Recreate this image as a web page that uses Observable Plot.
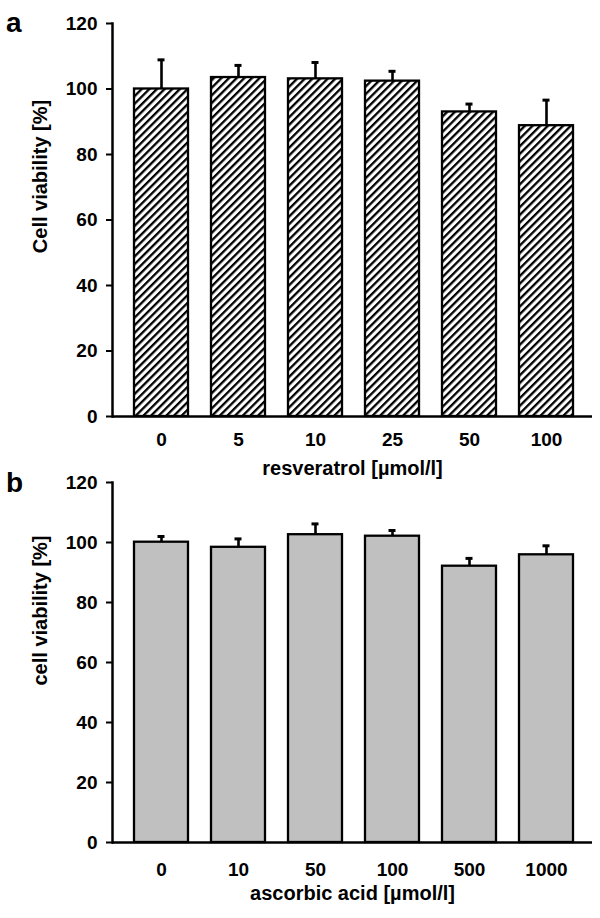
<!DOCTYPE html>
<html><head><meta charset="utf-8">
<script src="https://cdn.jsdelivr.net/npm/d3@7"></script>
<script src="https://cdn.jsdelivr.net/npm/@observablehq/plot@0.6"></script>
<style>
body{margin:0;background:#fff;}
#wrap{position:relative;width:600px;height:918px;font-family:"Liberation Sans",Arial,sans-serif;color:#000;}
.panel{position:absolute;left:0;}
.letter{position:absolute;font-weight:bold;font-size:28px;line-height:1;}
</style></head><body>
<div id="wrap">
  <div class="letter" style="left:6px;top:9px">a</div>
  <div class="letter" style="left:6px;top:469px">b</div>
  <div class="panel" id="pa" style="top:0px"></div>
  <div class="panel" id="pb" style="top:450px"></div>
</div>
<script>
const yTicks = [0, 20, 40, 60, 80, 100, 120];

const resveratrolDoses = ["0", "5", "10", "25", "50", "100"];
const resveratrolMeans = [100.0, 103.5, 103.1, 102.4, 93.0, 88.8];
const resveratrolSD = [8.9, 3.7, 5.0, 3.0, 2.4, 7.8];

const ascorbicDoses = ["0", "10", "50", "100", "500", "1000"];
const ascorbicMeans = [100.1, 98.4, 102.6, 102.1, 92.1, 95.9];
const ascorbicSD = [1.9, 2.8, 3.6, 1.9, 2.6, 3.0];

const FONT = "Liberation Sans, Arial, sans-serif";

function panel(o) {
  const data = o.cats.map((c, i) => ({dose: c, mean: o.means[i], sd: o.sds[i]}));
  const svg = Plot.plot({
    width: 600, height: o.height,
    marginLeft: 112, marginRight: 8, marginTop: o.marginTop, marginBottom: o.marginBottom,
    style: {background: "transparent", overflow: "visible", fontFamily: FONT, fontSize: "19px", fontWeight: "bold", color: "#000"},
    x: {domain: o.cats, range: [119.6, 586.9], paddingInner: 0.293, paddingOuter: 0.1465, label: null},
    y: {domain: [0, 120], label: null},
    marks: [
      Plot.barY(data, {x: "dose", y: "mean", fill: o.fill, stroke: "#000", strokeWidth: 2.3}),
      Plot.ruleX(data, {x: "dose", y1: "mean", y2: d => d.mean + d.sd, stroke: "#000", strokeWidth: 2.6}),
      Plot.tickY(data, {x: "dose", y: d => d.mean + d.sd, insetLeft: 23.5, insetRight: 23.5, stroke: "#000", strokeWidth: 3}),
      Plot.axisY({ticks: yTicks, tickSize: 6, tickPadding: 9, strokeWidth: 2, label: null, fontSize: 19, fontWeight: "bold"}),
      Plot.axisX({tickSize: 0, tickPadding: o.tickPad, label: null, fontSize: 19, fontWeight: "bold"}),
      Plot.frame({anchor: "left", stroke: "#000", strokeWidth: 2.5}),
      Plot.ruleY([0], {stroke: "#000", strokeWidth: 2.5}),
      Plot.text([o.yLabel], {frameAnchor: "left", textAnchor: "middle", lineAnchor: "middle", rotate: -90, dx: -72, dy: o.yTitleDy, fontSize: 20, fontWeight: "bold", fill: "#000"}),
      Plot.text([o.xLabel], {frameAnchor: "bottom", textAnchor: "middle", lineAnchor: "middle", dy: o.xTitleDy, fontSize: 20, fontWeight: "bold", fill: "#000"})
    ]
  });
  const ns = "http://www.w3.org/2000/svg";
  const defs = document.createElementNS(ns, "defs");
  defs.innerHTML = '<pattern id="hatch" patternUnits="userSpaceOnUse" width="5.4" height="5.4" patternTransform="rotate(45)"><rect width="5.4" height="5.4" fill="#fff"/><rect width="2.3" height="5.4" fill="#000"/></pattern>';
  svg.insertBefore(defs, svg.firstChild);
  return svg;
}

document.getElementById("pa").appendChild(panel({
  cats: resveratrolDoses, means: resveratrolMeans, sds: resveratrolSD,
  fill: "url(#hatch)", yLabel: "Cell viability [%]", xLabel: "resveratrol [µmol/l]",
  height: 480, marginTop: 23, marginBottom: 64, tickPad: 16, yTitleDy: -43.5, xTitleDy: 52
}));
document.getElementById("pb").appendChild(panel({
  cats: ascorbicDoses, means: ascorbicMeans, sds: ascorbicSD,
  fill: "#c0c0c0", yLabel: "cell viability [%]", xLabel: "ascorbic acid [µmol/l]",
  height: 468, marginTop: 32, marginBottom: 76, tickPad: 20, yTitleDy: -52, xTitleDy: 51
}));
</script>
</body></html>
